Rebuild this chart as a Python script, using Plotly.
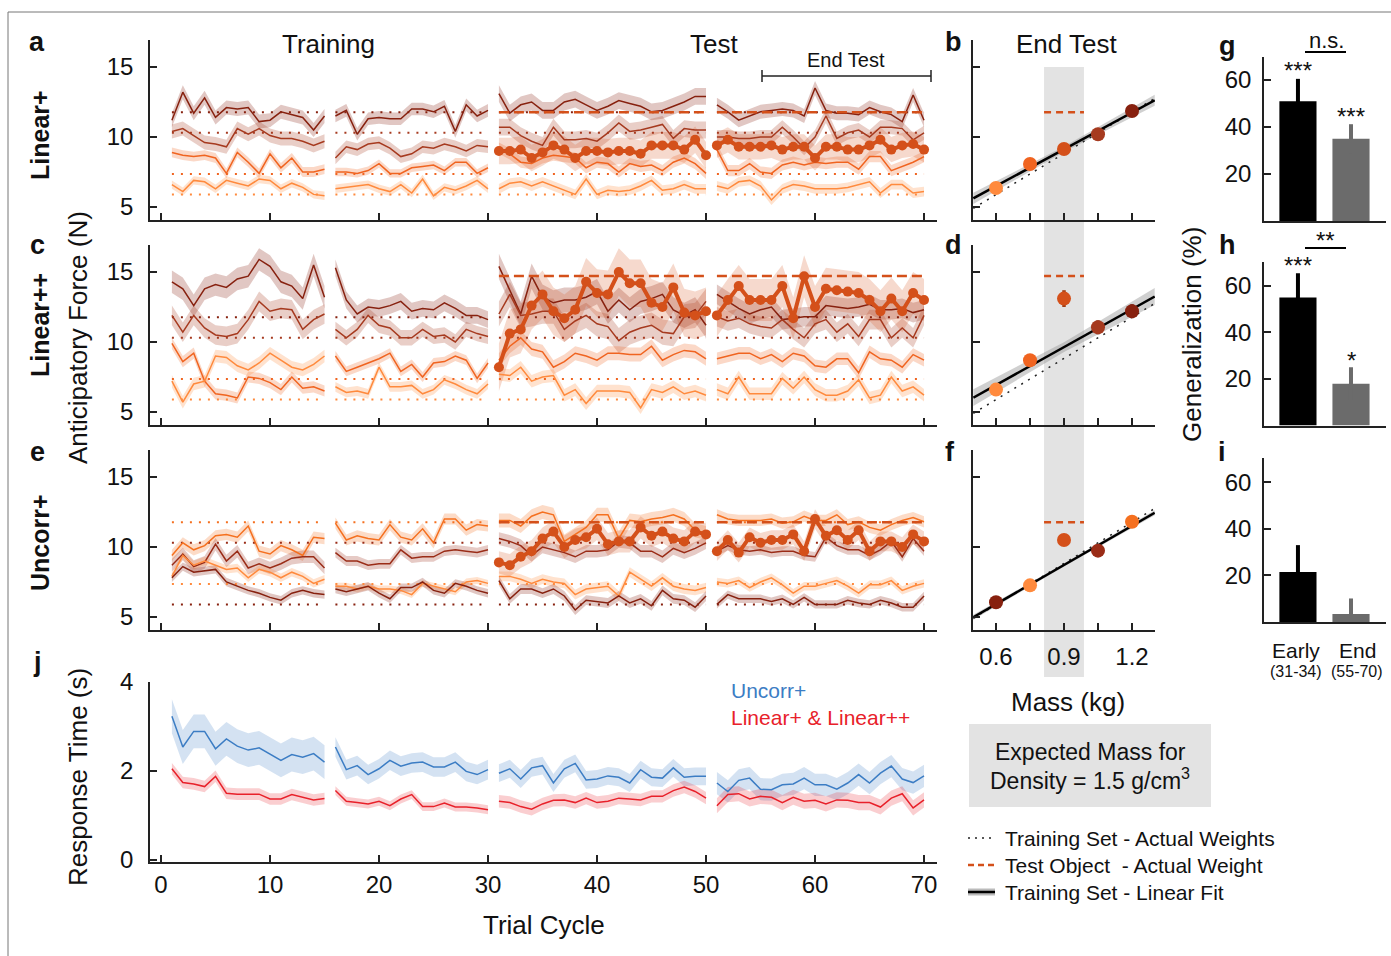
import numpy as np
import plotly.graph_objects as go

W, H = 1391, 956
FONT = "Liberation Sans, Arial, Helvetica, sans-serif"

# ---------------- data ----------------
segments = [(1, 15), (16, 30), (31, 50), (51, 70)]
test_segments = [(31, 50), (51, 70)]
cycle_ticks = [0, 10, 20, 30, 40, 50, 60, 70]

# target weights (N) of training objects and test objects
w_060, w_075, w_105, w_120 = 5.89, 7.36, 10.30, 11.77
test_w_a, test_w_c, test_w_e = 11.77, 14.72, 11.77

# Panel a : Linear+
a_f120 = [11.2, 13.2, 11.7, 12.8, 11.4, 12.1, 12.0, 12.1, 11.1, 11.2, 11.8, 11.6, 11.4, 10.5, 11.5,
          11.5, 11.9, 10.2, 11.3, 11.4, 11.3, 11.3, 12.0, 12.0, 11.8, 12.2, 10.4, 12.3, 11.5, 11.9,
          13.1, 11.7, 12.3, 12.5, 11.9, 11.9, 12.5, 12.7, 12.3, 11.9, 12.2, 12.6, 12.4, 12.2, 11.8, 11.9, 12.2, 12.5, 12.9, 12.9,
          12.3, 11.8, 11.2, 11.5, 11.8, 11.9, 12.0, 11.9, 11.5, 13.5, 11.9, 11.7, 11.7, 11.6, 12.1, 11.8, 11.6, 11.1, 13.0, 11.2]
a_f105 = [10.4, 10.6, 10.1, 9.6, 9.5, 9.3, 10.6, 10.2, 10.6, 10.1, 9.9, 9.9, 9.7, 9.4, 9.7,
          8.5, 9.3, 9.1, 9.5, 9.6, 9.2, 8.6, 8.8, 9.3, 9.2, 9.5, 9.3, 9.0, 9.4, 9.3,
          10.7, 10.7, 10.1, 9.7, 9.4, 10.7, 9.8, 9.8, 9.9, 9.7, 10.3, 11.0, 10.4, 10.5, 10.7, 10.9, 9.9, 10.6, 10.5, 10.5,
          10.0, 10.0, 9.9, 9.9, 10.0, 10.0, 10.7, 10.0, 9.2, 10.0, 11.5, 9.9, 10.3, 10.5, 10.0, 10.7, 10.7, 10.6, 9.8, 10.3]
a_f075 = [8.9, 8.7, 8.6, 8.7, 8.5, 7.4, 8.9, 8.2, 7.4, 8.8, 7.8, 8.5, 7.5, 7.5, 7.7,
          7.5, 7.5, 7.4, 7.6, 8.1, 7.4, 7.4, 7.8, 7.9, 8.0, 7.6, 8.2, 8.2, 7.4, 7.8,
          9.2, 8.8, 8.2, 8.1, 8.5, 8.7, 8.6, 8.5, 7.8, 8.2, 8.1, 7.5, 8.1, 7.9, 8.0, 7.6, 8.2, 8.5, 8.1, 7.4,
          9.1, 7.6, 7.6, 8.1, 7.5, 7.4, 8.0, 8.2, 8.0, 8.2, 8.1, 8.2, 8.2, 7.7, 8.6, 8.6, 7.6, 7.9, 8.2, 8.6]
a_f060 = [6.6, 6.1, 6.9, 6.8, 6.3, 6.9, 6.7, 6.5, 7.0, 6.9, 6.3, 6.7, 6.4, 5.9, 5.8,
          6.3, 6.4, 6.5, 6.6, 6.3, 6.1, 6.6, 6.0, 7.0, 5.8, 6.4, 6.2, 6.5, 6.9, 6.3,
          6.3, 6.7, 6.8, 6.5, 6.8, 6.5, 6.2, 5.9, 7.0, 5.9, 6.2, 6.1, 6.2, 6.5, 6.9, 6.2, 6.3, 6.6, 6.3, 6.3,
          6.5, 6.3, 6.8, 6.9, 6.5, 5.5, 6.3, 6.6, 6.5, 6.3, 6.3, 6.3, 6.4, 6.6, 6.8, 6.0, 6.6, 6.6, 6.0, 6.1]
a_test = [9.0, 9.0, 9.1, 8.5, 8.9, 9.4, 9.1, 8.5, 9.0, 9.0, 8.9, 9.0, 9.0, 8.8, 9.4, 9.4, 9.4, 9.1, 9.8, 8.7,
          9.4, 9.8, 9.3, 9.3, 9.3, 9.4, 9.1, 9.3, 9.3, 8.5, 9.3, 9.3, 9.1, 9.1, 9.4, 9.8, 9.1, 9.4, 9.5, 9.1]
a_sem120 = [0.5, 0.45, 0.6, 0.5]
a_sem105 = [0.5, 0.45, 0.6, 0.5]
a_sem075 = [0.35, 0.3, 0.4, 0.4]
a_sem060 = [0.3, 0.3, 0.35, 0.35]
a_semtest = [0.95, 0.9]

# Panel c : Linear++
c_f120 = [14.3, 13.8, 12.6, 13.8, 14.1, 13.9, 14.5, 14.7, 15.9, 15.4, 14.3, 14.0, 13.1, 15.5, 13.2,
          15.3, 13.0, 12.0, 12.5, 12.4, 12.6, 12.9, 12.2, 12.4, 12.3, 12.8, 12.4, 11.9, 11.9, 11.6,
          15.4, 13.7, 12.0, 14.7, 13.2, 12.8, 13.0, 13.0, 13.2, 13.6, 12.2, 13.0, 12.3, 12.9, 13.1, 13.4, 12.3, 11.9, 12.3, 11.2,
          13.4, 12.9, 12.4, 12.0, 12.3, 12.5, 11.6, 11.7, 11.8, 11.8, 12.6, 12.5, 12.4, 12.5, 12.7, 12.3, 12.3, 12.4, 12.1, 12.3]
c_f105 = [11.9, 10.7, 11.9, 11.0, 10.5, 10.4, 10.6, 11.6, 12.9, 12.2, 12.4, 12.3, 10.9, 11.6, 12.0,
          10.9, 10.3, 10.9, 11.9, 11.2, 11.0, 10.3, 10.3, 10.9, 10.4, 10.5, 10.0, 10.9, 10.6, 10.4,
          12.0, 13.4, 11.9, 12.0, 12.2, 12.2, 10.9, 11.5, 11.9, 11.3, 11.1, 10.1, 10.7, 11.0, 11.2, 10.7, 10.6, 11.8, 11.9, 12.9,
          11.8, 11.5, 11.7, 11.3, 11.1, 11.0, 11.6, 10.9, 10.3, 11.3, 11.6, 10.7, 11.3, 10.4, 11.6, 11.6, 10.3, 11.0, 10.3, 11.9]
c_f075 = [9.9, 8.6, 9.2, 7.2, 6.3, 6.2, 6.0, 7.5, 7.4, 7.1, 6.6, 7.5, 6.7, 6.8, 6.5,
          9.0, 7.9, 8.2, 8.5, 8.8, 9.2, 7.9, 8.4, 7.5, 8.5, 8.6, 9.0, 8.7, 7.4, 8.5,
          8.7, 9.7, 10.3, 9.5, 9.3, 8.2, 8.6, 9.2, 9.0, 8.7, 9.2, 9.2, 9.1, 9.1, 9.7, 8.7, 9.1, 9.4, 9.3, 8.8,
          8.8, 9.0, 9.2, 9.2, 8.8, 9.1, 8.6, 9.2, 9.0, 8.3, 8.2, 8.8, 8.8, 7.8, 9.3, 8.8, 8.7, 8.2, 9.1, 8.7]
c_f060 = [7.2, 5.7, 7.0, 7.2, 9.0, 8.9, 8.3, 8.0, 8.5, 9.2, 8.7, 8.2, 8.0, 8.4, 9.0,
          6.8, 6.4, 6.5, 6.3, 8.2, 6.8, 6.8, 6.9, 6.3, 6.6, 7.3, 7.0, 6.6, 6.3, 7.0,
          7.7, 7.6, 8.2, 7.2, 7.5, 7.6, 6.2, 6.6, 5.6, 6.5, 6.5, 6.5, 6.4, 5.3, 6.6, 6.4, 6.8, 6.3, 6.5, 6.2,
          6.6, 6.3, 7.5, 6.3, 6.3, 6.3, 7.4, 6.7, 7.5, 6.6, 6.2, 6.2, 6.5, 7.3, 6.0, 6.2, 7.5, 6.5, 6.8, 6.2]
c_test = [8.2, 10.6, 10.9, 12.6, 13.4, 12.2, 11.7, 12.3, 14.3, 13.5, 13.4, 15.0, 14.2, 14.2, 12.8, 12.5, 13.9, 12.1, 11.9, 12.2,
          11.9, 13.0, 14.0, 13.0, 13.0, 13.0, 14.0, 11.7, 14.7, 12.5, 13.8, 13.7, 13.6, 13.5, 13.0, 12.2, 13.1, 12.2, 13.5, 13.0]
c_sem120 = [0.8, 0.6, 0.9, 0.7]
c_sem105 = [0.7, 0.55, 0.9, 0.7]
c_sem075 = [0.4, 0.35, 0.5, 0.45]
c_sem060 = [0.45, 0.35, 0.45, 0.45]
c_semtest = [1.7, 1.5]

# Panel e : Uncorr+
e_f120 = [9.4, 10.3, 9.8, 10.1, 10.8, 10.9, 10.7, 11.5, 9.7, 9.5, 10.1, 9.8, 9.4, 10.7, 10.6,
          11.7, 10.5, 10.8, 10.6, 10.5, 11.6, 10.7, 10.5, 11.3, 10.3, 12.0, 12.0, 11.2, 11.6, 11.5,
          11.9, 11.9, 11.5, 12.2, 12.5, 12.3, 10.4, 10.9, 11.4, 12.3, 12.3, 10.6, 11.9, 11.8, 12.0, 12.1, 12.3, 12.0, 11.2, 11.0,
          12.3, 12.0, 11.9, 11.9, 11.9, 12.0, 11.7, 11.8, 12.2, 11.9, 11.9, 12.3, 11.6, 11.8, 11.4, 11.2, 11.6, 11.9, 12.1, 11.8]
e_f105 = [8.7, 9.5, 8.6, 8.9, 10.2, 9.0, 9.7, 8.5, 8.8, 8.5, 8.8, 9.2, 9.3, 9.3, 8.5,
          9.6, 9.0, 9.0, 8.7, 8.8, 8.8, 9.8, 9.2, 9.3, 9.3, 9.7, 9.8, 9.7, 9.6, 9.8,
          10.6, 10.4, 10.1, 9.4, 10.0, 9.8, 9.6, 9.3, 9.7, 9.7, 9.8, 10.4, 10.3, 9.7, 9.7, 9.3, 9.9, 9.6, 9.9, 10.3,
          9.7, 10.1, 9.8, 9.7, 9.8, 9.6, 9.7, 9.7, 9.4, 9.3, 10.7, 10.1, 9.8, 9.8, 9.4, 9.8, 10.4, 9.3, 10.6, 9.7]
e_f075 = [7.9, 9.4, 8.7, 9.0, 8.7, 8.4, 8.5, 7.8, 8.4, 8.2, 7.8, 8.2, 7.9, 7.4, 7.7,
          7.2, 7.2, 7.0, 7.2, 7.0, 7.0, 6.9, 6.6, 7.4, 7.2, 7.0, 6.8, 7.5, 7.6, 7.4,
          7.9, 7.9, 7.7, 7.4, 7.7, 7.5, 7.4, 6.6, 7.0, 7.1, 7.2, 6.5, 8.2, 7.7, 7.2, 7.8, 7.2, 7.0, 6.9, 7.1,
          7.5, 7.4, 7.6, 7.1, 7.5, 7.8, 7.3, 6.7, 7.2, 7.2, 7.4, 7.6, 7.2, 6.7, 7.3, 7.3, 7.6, 6.9, 7.2, 7.4]
e_f060 = [7.8, 8.6, 8.2, 8.3, 8.4, 7.5, 7.2, 6.9, 6.7, 6.4, 6.2, 6.7, 6.9, 6.7, 6.6,
          7.0, 6.8, 7.0, 7.2, 6.7, 6.3, 7.1, 7.1, 7.5, 6.9, 6.7, 7.4, 7.2, 6.9, 6.7,
          7.6, 6.3, 7.0, 7.0, 6.7, 7.0, 6.5, 5.5, 6.2, 6.1, 6.0, 6.5, 6.0, 6.3, 5.8, 6.9, 6.3, 6.2, 5.7, 6.5,
          5.9, 6.6, 6.3, 6.3, 6.3, 6.1, 6.3, 5.9, 6.4, 5.9, 5.9, 5.9, 6.2, 6.0, 5.9, 6.2, 6.0, 5.7, 5.7, 6.5]
e_test = [8.9, 8.7, 9.3, 9.7, 10.6, 11.1, 10.0, 10.5, 10.7, 11.3, 10.2, 10.4, 10.4, 11.4, 10.8, 11.1, 10.6, 10.4, 11.1, 10.9,
          9.7, 10.5, 9.6, 10.7, 10.3, 10.5, 10.5, 10.9, 9.7, 12.0, 10.8, 11.2, 10.5, 11.2, 9.7, 10.4, 10.4, 10.0, 10.9, 10.4]
e_sem120 = [0.4, 0.4, 0.5, 0.4]
e_sem105 = [0.45, 0.35, 0.45, 0.35]
e_sem075 = [0.3, 0.25, 0.35, 0.3]
e_sem060 = [0.3, 0.3, 0.35, 0.3]
e_semtest = [0.8, 0.7]

# Panel j : response time (s)
rt_uncorr = [3.23, 2.54, 2.89, 2.89, 2.50, 2.72, 2.56, 2.47, 2.52, 2.38, 2.24, 2.37, 2.31, 2.39, 2.20,
             2.54, 2.03, 2.12, 1.92, 2.05, 2.24, 2.11, 2.18, 2.20, 2.09, 2.09, 2.20, 1.99, 1.92, 2.03,
             1.95, 2.05, 1.82, 2.07, 2.12, 1.73, 2.05, 2.17, 1.80, 1.82, 1.89, 1.86, 1.73, 2.03, 1.86, 1.84, 2.07, 1.86, 1.88, 1.88,
             1.73, 1.54, 1.79, 1.84, 1.59, 1.58, 1.69, 1.71, 1.84, 1.69, 1.69, 1.59, 1.73, 1.92, 1.73, 1.95, 2.11, 1.82, 1.74, 1.89]
rt_linear = [2.05, 1.74, 1.71, 1.65, 1.88, 1.50, 1.48, 1.48, 1.48, 1.37, 1.37, 1.47, 1.41, 1.35, 1.38,
             1.56, 1.32, 1.29, 1.26, 1.32, 1.22, 1.37, 1.47, 1.20, 1.20, 1.28, 1.19, 1.19, 1.17, 1.13,
             1.32, 1.29, 1.20, 1.14, 1.26, 1.34, 1.35, 1.29, 1.39, 1.29, 1.32, 1.39, 1.37, 1.35, 1.43, 1.43, 1.56, 1.64, 1.54, 1.39,
             1.22, 1.47, 1.49, 1.37, 1.43, 1.41, 1.29, 1.41, 1.32, 1.34, 1.26, 1.35, 1.34, 1.29, 1.29, 1.19, 1.39, 1.49, 1.17, 1.35]
rt_sem_uncorr = [0.38, 0.22, 0.2, 0.25]
rt_sem_linear = [0.13, 0.1, 0.14, 0.17]

# Panels b, d, f : end-test force vs mass
masses = [0.6, 0.75, 0.9, 1.05, 1.2]
mass_labels = [0.6, 0.9, 1.2]
train_idx = [0, 1, 3, 4]
b_force = [6.36, 8.07, 9.14, 10.2, 11.86]
b_err = [0.15, 0.15, 0.2, 0.15, 0.2]
d_force = [6.6, 8.7, 13.1, 11.05, 12.2]
d_err = [0.2, 0.25, 0.6, 0.5, 0.5]
f_force = [6.05, 7.26, 10.5, 9.74, 11.8]
f_err = [0.15, 0.15, 0.2, 0.15, 0.15]
fit_mass = [0.5, 0.9, 1.3]
b_ci = [0.4, 0.2, 0.4]
d_ci = [0.6, 0.35, 0.6]
f_ci = [0.18, 0.1, 0.18]
actual_mass = [0.5, 1.3]
actual_force = [4.905, 12.753]
expected_mass_band = [0.812, 0.988]

# Panels g, h, i : generalization (%)
gen_early = [51.0, 55.0, 21.5]
gen_early_err = [9.5, 10.5, 11.5]
gen_end = [35.0, 18.0, 3.4]
gen_end_err = [6.2, 7.0, 6.7]

# ---------------- styling ----------------
C060, C075, C105, C120, CTEST = "#FF8A3D", "#F06420", "#A63A1F", "#87210F", "#D4501A"
E120, E105, E075, E060 = "#F5701F", "#9A2C17", "#FF8A3D", "#87210F"
BLUE, RED = "#3C7DC4", "#E8212A"
DOT = "2px,7px"
DASH = "10px,5px"


def rgba(hexc, a):
    h = hexc.lstrip("#")
    return "rgba(%d,%d,%d,%.2f)" % (int(h[0:2], 16), int(h[2:4], 16), int(h[4:6], 16), a)


def seg_line(values, segs):
    xs, ys, k = [], [], 0
    for s, e in segs:
        n = e - s + 1
        xs += list(range(s, e + 1)) + [None]
        ys += list(values[k:k + n]) + [None]
        k += n
    return xs, ys


def seg_band(values, sems, segs):
    xs, ys, k = [], [], 0
    for (s, e), sd in zip(segs, sems):
        n = e - s + 1
        v = values[k:k + n]
        cx = list(range(s, e + 1))
        xs += cx + cx[::-1] + [None]
        ys += [a + sd for a in v] + [a - sd for a in v][::-1] + [None]
        k += n
    return xs, ys


def seg_const(level, segs):
    xs, ys = [], []
    for s, e in segs:
        xs += [s, e, None]
        ys += [level, level, None]
    return xs, ys


fig = go.Figure()


def force_panel(ax, series, test, test_sem, test_level, alpha=0.25):
    xa, ya = ("x" if ax == 1 else "x%d" % ax), ("y" if ax == 1 else "y%d" % ax)
    for vals, sem, col, lvl in series:
        bx, by = seg_band(vals, sem, segments)
        fig.add_trace(go.Scatter(x=bx, y=by, fill="toself", fillcolor=rgba(col, alpha), line=dict(width=0),
                                 mode="lines", hoverinfo="skip", showlegend=False, xaxis=xa, yaxis=ya))
    bx, by = seg_band(test, test_sem, test_segments)
    fig.add_trace(go.Scatter(x=bx, y=by, fill="toself", fillcolor=rgba(CTEST, 0.22), line=dict(width=0),
                             mode="lines", hoverinfo="skip", showlegend=False, xaxis=xa, yaxis=ya))
    for vals, sem, col, lvl in series:
        dx, dy = seg_const(lvl, segments)
        fig.add_trace(go.Scatter(x=dx, y=dy, mode="lines", line=dict(color=col, width=2, dash=DOT),
                                 showlegend=False, xaxis=xa, yaxis=ya))
    for vals, sem, col, lvl in series:
        lx, ly = seg_line(vals, segments)
        fig.add_trace(go.Scatter(x=lx, y=ly, mode="lines", line=dict(color=col, width=1.5),
                                 showlegend=False, xaxis=xa, yaxis=ya))
    dx, dy = seg_const(test_level, test_segments)
    fig.add_trace(go.Scatter(x=dx, y=dy, mode="lines", line=dict(color=CTEST, width=2.5, dash=DASH),
                             showlegend=False, xaxis=xa, yaxis=ya))
    lx, ly = seg_line(test, test_segments)
    fig.add_trace(go.Scatter(x=lx, y=ly, mode="lines+markers", line=dict(color=CTEST, width=4),
                             marker=dict(color=CTEST, size=10), showlegend=False, xaxis=xa, yaxis=ya))


force_panel(1, [(a_f120, a_sem120, C120, w_120), (a_f105, a_sem105, C105, w_105),
                (a_f075, a_sem075, C075, w_075), (a_f060, a_sem060, C060, w_060)], a_test, a_semtest, test_w_a)
force_panel(2, [(c_f120, c_sem120, C120, w_120), (c_f105, c_sem105, C105, w_105),
                (c_f075, c_sem075, C075, w_075), (c_f060, c_sem060, C060, w_060)], c_test, c_semtest, test_w_c)
force_panel(3, [(e_f120, e_sem120, E120, w_120), (e_f105, e_sem105, E105, w_105),
                (e_f075, e_sem075, E075, w_075), (e_f060, e_sem060, E060, w_060)], e_test, e_semtest, test_w_e)

# panel j
for vals, sem, col in [(rt_uncorr, rt_sem_uncorr, BLUE), (rt_linear, rt_sem_linear, RED)]:
    bx, by = seg_band(vals, sem, segments)
    fig.add_trace(go.Scatter(x=bx, y=by, fill="toself", fillcolor=rgba(col, 0.22), line=dict(width=0),
                             mode="lines", hoverinfo="skip", showlegend=False, xaxis="x4", yaxis="y4"))
for vals, col in [(rt_uncorr, BLUE), (rt_linear, RED)]:
    lx, ly = seg_line(vals, segments)
    fig.add_trace(go.Scatter(x=lx, y=ly, mode="lines", line=dict(color=col, width=1.5),
                             showlegend=False, xaxis="x4", yaxis="y4"))


# panels b, d, f
def darker(hexc, f=0.75):
    h = hexc.lstrip("#")
    return "#%02x%02x%02x" % tuple(int(int(h[i:i + 2], 16) * f) for i in (0, 2, 4))


def mass_panel(ax, force, err, ci, colors, test_level):
    xa, ya = "x%d" % ax, "y%d" % ax
    tm = [masses[i] for i in train_idx]
    tf = [force[i] for i in train_idx]
    slope, icpt = np.polyfit(tm, tf, 1)
    fit = [slope * m + icpt for m in fit_mass]
    fig.add_trace(go.Scatter(x=fit_mass + fit_mass[::-1],
                             y=[f + c for f, c in zip(fit, ci)] + [f - c for f, c in zip(fit, ci)][::-1],
                             fill="toself", fillcolor="rgba(150,150,150,0.45)", line=dict(width=0),
                             mode="lines", showlegend=False, xaxis=xa, yaxis=ya))
    fig.add_trace(go.Scatter(x=actual_mass, y=actual_force, mode="lines",
                             line=dict(color="#222", width=1.5, dash="2px,6px"), showlegend=False,
                             xaxis=xa, yaxis=ya))
    fig.add_trace(go.Scatter(x=fit_mass, y=fit, mode="lines", line=dict(color="#000", width=2.5),
                             showlegend=False, xaxis=xa, yaxis=ya))
    fig.add_trace(go.Scatter(x=expected_mass_band, y=[test_level, test_level], mode="lines",
                             line=dict(color=CTEST, width=2.5, dash="7px,5px"), showlegend=False,
                             xaxis=xa, yaxis=ya))
    for m, f, e, c in zip(masses, force, err, colors):
        fig.add_trace(go.Scatter(x=[m], y=[f], mode="markers", marker=dict(color=c, size=14),
                                 error_y=dict(type="data", array=[e], color=darker(c), thickness=3.5, width=0),
                                 showlegend=False, xaxis=xa, yaxis=ya))


mass_panel(5, b_force, b_err, b_ci, [C060, C075, CTEST, C105, C120], test_w_a)
mass_panel(6, d_force, d_err, d_ci, [C060, C075, CTEST, C105, C120], test_w_c)
mass_panel(7, f_force, f_err, f_ci, [E060, E075, CTEST, E105, E120], test_w_e)

# panels g, h, i
for k, ax in enumerate([8, 9, 10]):
    xa, ya = "x%d" % ax, "y%d" % ax
    fig.add_trace(go.Bar(x=[0], y=[gen_early[k]], width=0.7, marker=dict(color="#000", line=dict(width=0)),
                         error_y=dict(type="data", array=[gen_early_err[k]], color="#000", thickness=4, width=0),
                         showlegend=False, xaxis=xa, yaxis=ya))
    fig.add_trace(go.Bar(x=[1], y=[gen_end[k]], width=0.7, marker=dict(color="#6b6b6b", line=dict(width=0)),
                         error_y=dict(type="data", array=[gen_end_err[k]], color="#6b6b6b", thickness=4, width=0),
                         showlegend=False, xaxis=xa, yaxis=ya))

# ---------------- axes ----------------
AX = dict(showline=True, linecolor="#222", linewidth=1.5, ticks="inside", ticklen=7, tickwidth=1.5,
          tickcolor="#222", showgrid=False, zeroline=False, automargin=False,
          tickfont=dict(size=24, color="#111", family=FONT))


def xdom(a, b):
    return [a / W, b / W]


def ydom(bottom, top):
    return [1 - bottom / H, 1 - top / H]


layout = {}
force_x = (150, 937)
force_y = {1: (220, 40), 2: (425, 245), 3: (630, 450)}
for ax in (1, 2, 3):
    sx = "" if ax == 1 else str(ax)
    layout["xaxis" + sx] = dict(AX, domain=xdom(*force_x), range=[-1.01, 71.19], tickvals=cycle_ticks,
                                showticklabels=False, anchor="y" + sx)
    layout["yaxis" + sx] = dict(AX, domain=ydom(*force_y[ax]), range=[4.07, 16.93], tickvals=[5, 10, 15],
                                ticklabelstandoff=10, anchor="x" + sx)
layout["xaxis4"] = dict(AX, domain=xdom(*force_x), range=[-1.01, 71.19], tickvals=cycle_ticks,
                        ticklabelstandoff=0, anchor="y4")
layout["yaxis4"] = dict(AX, domain=ydom(862, 682), range=[-0.045, 4.0], tickvals=[0, 2, 4],
                        ticklabelstandoff=10, anchor="x4")
for ax, k in zip((5, 6, 7), (1, 2, 3)):
    layout["xaxis%d" % ax] = dict(AX, domain=xdom(973, 1155), range=[0.4985, 1.3014], tickvals=mass_labels,
                                  showticklabels=(ax == 7), ticklabelstandoff=4, anchor="y%d" % ax,
                                  minor=dict(ticks="inside", ticklen=7, tickwidth=1.5, tickcolor="#222",
                                             tick0=0.6, dtick=0.15, showgrid=False))
    layout["yaxis%d" % ax] = dict(AX, domain=ydom(*force_y[k]), range=[4.07, 16.93], tickvals=[5, 10, 15],
                                  showticklabels=False, anchor="x%d" % ax)
bar_y = {8: ((221, 57), 69.8), 9: ((425.5, 262), 70.3), 10: ((622, 458), 70.4)}
for ax in (8, 9, 10):
    layout["xaxis%d" % ax] = dict(AX, domain=xdom(1264, 1386), range=[-0.64, 1.66], ticks="",
                                  showticklabels=False, anchor="y%d" % ax)
    layout["yaxis%d" % ax] = dict(AX, domain=ydom(*bar_y[ax][0]), range=[0, bar_y[ax][1]], tickvals=[20, 40, 60],
                                  ticklabelstandoff=6, anchor="x%d" % ax)


# ---------------- annotations ----------------
def ann(text, x, y, size, color="#111", bold=False, angle=0, xanchor="center"):
    return dict(text=("<b>%s</b>" % text) if bold else text, x=x / W, y=1 - y / H, xref="paper", yref="paper",
                showarrow=False, font=dict(size=size, color=color, family=FONT), textangle=angle,
                xanchor=xanchor, yanchor="middle")


annotations = [
    ann("Training", 328, 44, 26), ann("Test", 714, 44, 26), ann("End Test", 846, 60, 20),
    ann("End Test", 1066, 44, 26),
    ann("a", 37, 42, 27, bold=True), ann("b", 953, 42, 27, bold=True), ann("g", 1227, 46, 27, bold=True),
    ann("c", 37, 245, 27, bold=True), ann("d", 953, 245, 27, bold=True), ann("h", 1227, 245, 27, bold=True),
    ann("e", 37, 452, 27, bold=True), ann("f", 950, 452, 27, bold=True), ann("i", 1222, 452, 27, bold=True),
    ann("j", 37, 662, 27, bold=True),
    ann("Linear+", 40, 135, 25, bold=True, angle=-90), ann("Linear++", 40, 325, 25, bold=True, angle=-90),
    ann("Uncorr+", 40, 543, 25, bold=True, angle=-90),
    ann("Anticipatory Force (N)", 78, 338, 26, angle=-90),
    ann("Response Time (s)", 78, 777, 26, angle=-90),
    ann("Trial Cycle", 544, 925, 26), ann("Mass (kg)", 1068, 702, 26),
    ann("Generalization (%)", 1192, 335, 26, angle=-90),
    ann("Uncorr+", 729, 690, 21, color=BLUE, xanchor="left"),
    ann("Linear+ &amp; Linear++", 729, 717, 21, color=RED, xanchor="left"),
    ann("Expected Mass for", 1090, 752, 23), ann("Density = 1.5 g/cm<sup>3</sup>", 1090, 779, 23),
    ann("Training Set - Actual Weights", 1003, 838, 21, xanchor="left"),
    ann("Test Object  - Actual Weight", 1003, 865, 21, xanchor="left"),
    ann("Training Set - Linear Fit", 1003, 892, 21, xanchor="left"),
    ann("***", 1298, 71, 24), ann("***", 1351, 116, 24), ann("n.s.", 1326, 40, 22),
    ann("***", 1298, 266, 24), ann("*", 1351, 360, 24), ann("**", 1325, 241, 24),
    ann("Early", 1296, 650, 21), ann("End", 1357, 650, 21),
    ann("(31-34)", 1296, 671, 16), ann("(55-70)", 1357, 671, 16),
]


def pline(x0, y0, x1, y1, color="#222", width=1.5, dash=None):
    d = dict(type="line", xref="paper", yref="paper", x0=x0 / W, y0=1 - y0 / H, x1=x1 / W, y1=1 - y1 / H,
             line=dict(color=color, width=width))
    if dash:
        d["line"]["dash"] = dash
    return d


shapes = [
    dict(type="rect", xref="x5", yref="paper", x0=expected_mass_band[0], x1=expected_mass_band[1],
         y0=1 - 677 / H, y1=1 - 67 / H, fillcolor="#e3e3e3", line=dict(width=0), layer="below"),
    dict(type="rect", xref="paper", yref="paper", x0=969 / W, x1=1211 / W, y0=1 - 807 / H, y1=1 - 724 / H,
         fillcolor="#e3e3e3", line=dict(width=0), layer="below"),
    pline(8, 12, 8, 956, color="#777", width=1), pline(8, 12, 1391, 12, color="#777", width=1),
    pline(762, 76, 931, 76), pline(762, 70, 762, 82), pline(931, 70, 931, 82),
    pline(1305, 52, 1346, 52, color="#000", width=2), pline(1305, 248, 1346, 248, color="#000", width=2),
    pline(968, 838, 995, 838, color="#222", width=1.5, dash="2px,5px"),
    pline(968, 865, 995, 865, color=CTEST, width=2.5, dash="6px,4px"),
    pline(968, 892, 995, 892, color="#bbbbbb", width=7),
    pline(968, 892, 995, 892, color="#000", width=2.5),
]

fig.update_layout(
    width=W, height=H, margin=dict(l=0, r=0, t=0, b=0, autoexpand=False), autosize=False,
    paper_bgcolor="white", plot_bgcolor="rgba(0,0,0,0)", barmode="overlay",
    font=dict(family=FONT, color="#111"), showlegend=False,
    annotations=annotations, shapes=shapes, **layout)

fig.write_html("out.html")
